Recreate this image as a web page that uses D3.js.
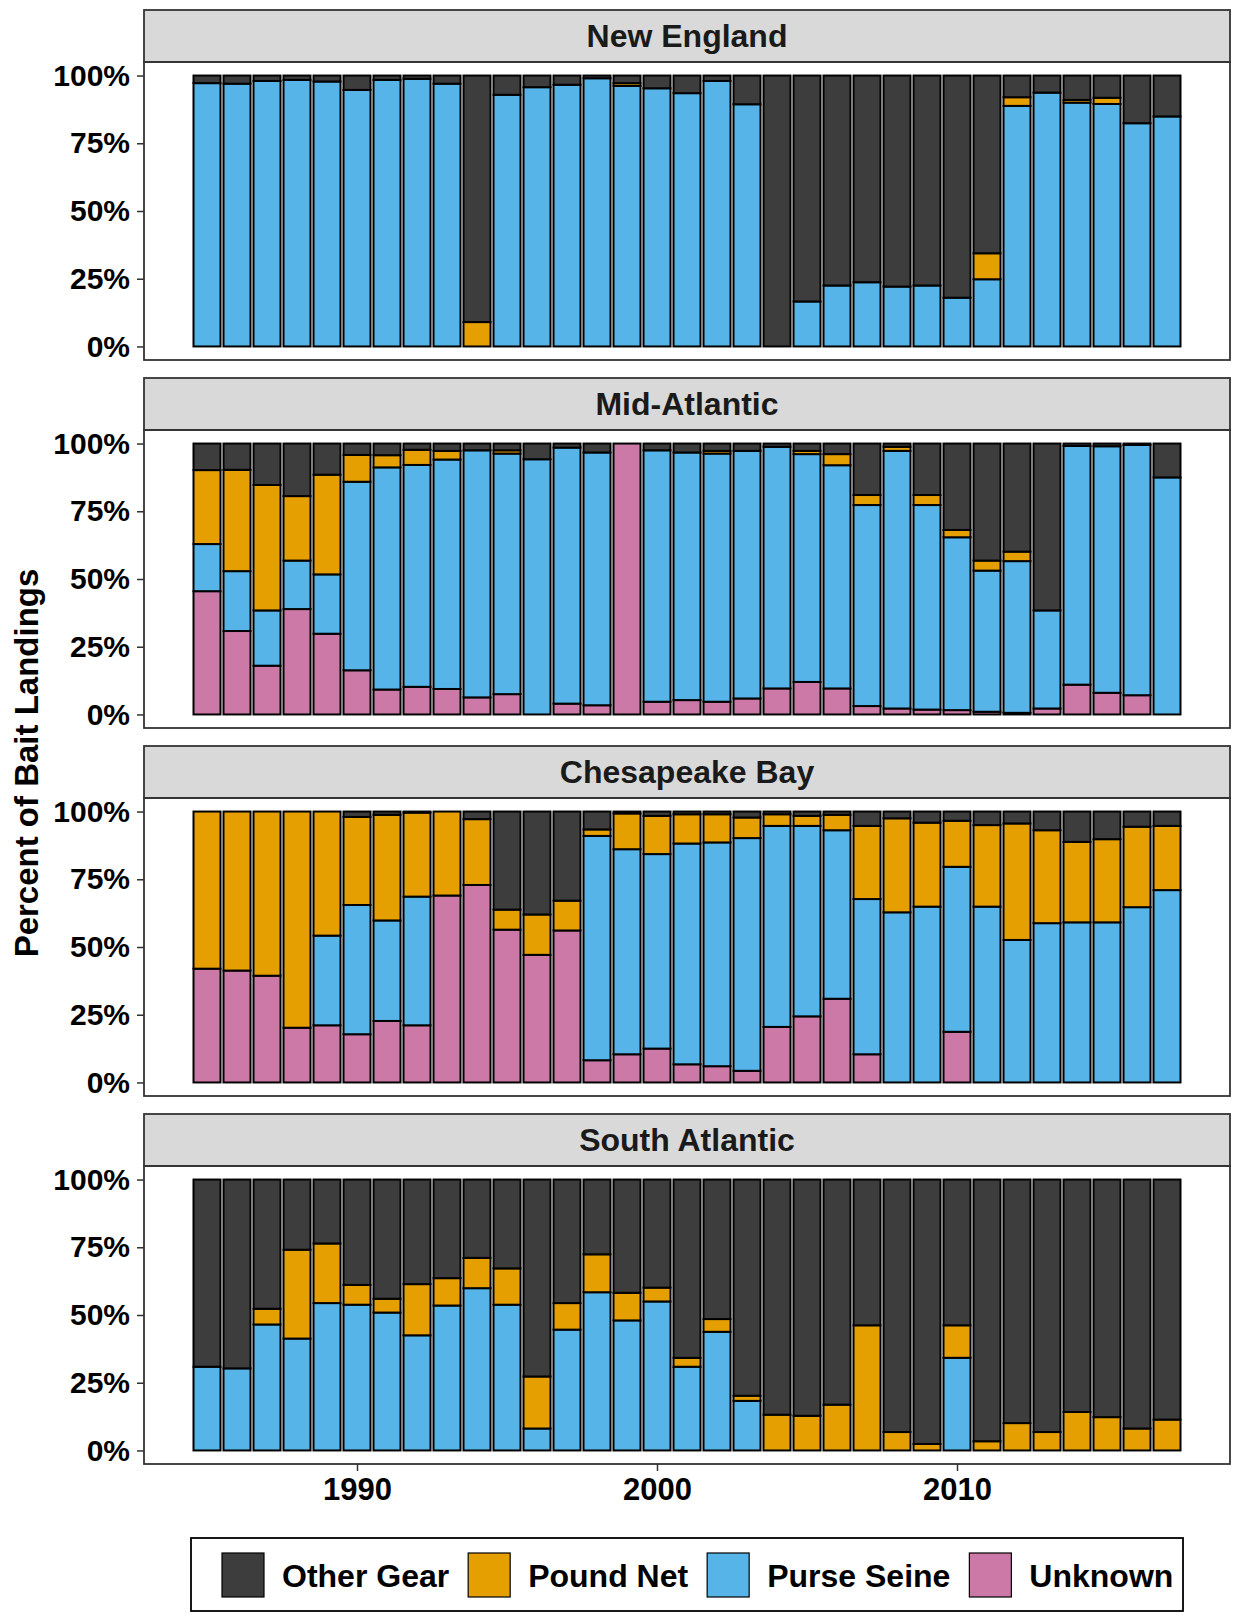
<!DOCTYPE html>
<html>
<head>
<meta charset="utf-8">
<script src="https://cdn.jsdelivr.net/npm/d3@7"></script>
<style>
  body { margin: 0; background: #fff; }
  svg { display: block; }
</style>
</head>
<body>
<script>
// years and groups
const years = [1985, 1986, 1987, 1988, 1989, 1990, 1991, 1992, 1993, 1994, 1995,
  1996, 1997, 1998, 1999, 2000, 2001, 2002, 2003, 2004, 2005, 2006, 2007, 2008,
  2009, 2010, 2011, 2012, 2013, 2014, 2015, 2016, 2017];
const regions = ["New England", "Mid-Atlantic", "Chesapeake Bay", "South Atlantic"];
const gears = ["Other Gear", "Pound Net", "Purse Seine", "Unknown"];
const yTicks = [0, 0.25, 0.5, 0.75, 1];
const xTicks = [1990, 2000, 2010];

// New England (% of bait landings)
const neOther = [2.8, 3, 2, 1.6, 2.2, 5.3, 1.6, 1.2, 3, 91, 7.1, 4.3, 3.4, 1, 2.8, 4.7, 6.5, 2, 10.6, 100, 83.4, 77.5, 76.3, 77.9, 77.5, 82, 65.6, 8, 6.3, 9, 8.2, 17.6, 15.1];
const nePound = [0, 0, 0, 0, 0, 0, 0, 0, 0, 9, 0, 0, 0, 0, 1, 0, 0, 0, 0, 0, 0, 0, 0, 0, 0, 0, 9.6, 3.2, 0, 1, 2.3, 0, 0];
const nePurse = [97.2, 97, 98, 98.4, 97.8, 94.7, 98.4, 98.8, 97, 0, 92.9, 95.7, 96.6, 99, 96.2, 95.3, 93.5, 98, 89.4, 0, 16.6, 22.5, 23.7, 22.1, 22.5, 18, 24.8, 88.8, 93.7, 90, 89.5, 82.4, 84.9];
const neUnknown = [0, 0, 0, 0, 0, 0, 0, 0, 0, 0, 0, 0, 0, 0, 0, 0, 0, 0, 0, 0, 0, 0, 0, 0, 0, 0, 0, 0, 0, 0, 0, 0, 0];

// Mid-Atlantic
const maOther = [9.8, 9.7, 15.3, 19.4, 11.5, 4.2, 4.3, 2.3, 2.7, 2.5, 2.5, 5.8, 1.5, 3.3, 0, 2.5, 3.3, 2.7, 2.7, 1.2, 2.7, 3.9, 19, 1.2, 19, 31.9, 43.2, 39.9, 61.6, 0.9, 1, 0.5, 12.5];
const maPound = [27.3, 37.4, 46.3, 23.8, 36.8, 9.9, 4.5, 5.6, 3.2, 0, 1.2, 0, 0, 0, 0, 0, 0, 1, 0, 0, 1.2, 4.1, 3.7, 1.5, 3.7, 2.7, 3.7, 3.5, 0, 0, 0, 0, 0];
const maPurse = [17.4, 22.1, 20.4, 17.9, 21.9, 69.6, 82, 81.9, 84.7, 91.2, 88.8, 94.2, 94.5, 93.3, 0, 92.8, 91.4, 91.6, 91.4, 89.2, 84.1, 82.4, 74.2, 95.1, 75.5, 63.8, 52.1, 56, 36.2, 88.1, 91, 92.4, 87.5];
const maUnknown = [45.5, 30.8, 18, 38.9, 29.8, 16.3, 9.2, 10.2, 9.4, 6.3, 7.5, 0, 4, 3.4, 100, 4.7, 5.3, 4.7, 5.9, 9.6, 12, 9.6, 3.1, 2.2, 1.8, 1.6, 1, 0.6, 2.2, 11, 8, 7.1, 0];

// Chesapeake Bay
const cbOther = [0, 0, 0, 0, 0, 2, 1.2, 0.4, 0, 2.8, 36.2, 38, 32.9, 6.6, 0.7, 1.6, 1, 1, 2.2, 1, 1.6, 1.2, 5.3, 2.5, 4.1, 3.4, 5, 4.4, 6.9, 11.2, 10.2, 5.6, 5.3];
const cbPound = [58, 58.7, 60.6, 79.8, 45.8, 32.5, 39, 31, 31, 24.3, 7.4, 14.9, 11, 2.4, 13.2, 14.1, 10.8, 10.4, 7.6, 4.3, 3.7, 5.7, 27, 34.7, 31, 17, 30.1, 43, 34.3, 29.7, 30.7, 29.7, 23.7];
const cbPurse = [0, 0, 0, 0, 33.1, 47.7, 37.1, 47.5, 0, 0, 0, 0, 0, 82.8, 75.7, 71.8, 81.5, 82.6, 85.9, 74.2, 70.3, 62.2, 57.3, 62.8, 64.9, 60.9, 64.9, 52.6, 58.8, 59.1, 59.1, 64.7, 71];
const cbUnknown = [42, 41.3, 39.4, 20.2, 21.1, 17.8, 22.7, 21.1, 69, 72.9, 56.4, 47.1, 56.1, 8.2, 10.4, 12.5, 6.7, 6, 4.3, 20.5, 24.4, 30.9, 10.4, 0, 0, 18.7, 0, 0, 0, 0, 0, 0, 0];

// South Atlantic
const saOther = [69.1, 69.7, 47.7, 25.9, 23.6, 38.9, 44, 38.6, 36.4, 28.9, 32.8, 72.7, 45.6, 27.6, 41.8, 39.9, 65.8, 51.5, 79.8, 86.8, 87.2, 83.1, 53.8, 93.2, 97.6, 53.8, 96.6, 89.9, 93.2, 85.8, 87.7, 91.9, 88.6];
const saPound = [0, 0, 5.8, 32.8, 22, 7.3, 5.1, 18.9, 10.1, 11.2, 13.4, 19.2, 9.8, 14, 10.2, 5.1, 3.3, 4.7, 1.9, 13.2, 12.8, 16.9, 46.2, 6.8, 2.4, 12, 3.4, 10.1, 6.8, 14.2, 12.3, 8.1, 11.4];
const saPurse = [30.9, 30.3, 46.5, 41.3, 54.4, 53.8, 50.9, 42.5, 53.5, 59.9, 53.8, 8.1, 44.6, 58.4, 48, 55, 30.9, 43.8, 18.3, 0, 0, 0, 0, 0, 0, 34.2, 0, 0, 0, 0, 0, 0, 0];
const saUnknown = [0, 0, 0, 0, 0, 0, 0, 0, 0, 0, 0, 0, 0, 0, 0, 0, 0, 0, 0, 0, 0, 0, 0, 0, 0, 0, 0, 0, 0, 0, 0, 0, 0];

const regionSeries = [
  [neOther, nePound, nePurse, neUnknown],
  [maOther, maPound, maPurse, maUnknown],
  [cbOther, cbPound, cbPurse, cbUnknown],
  [saOther, saPound, saPurse, saUnknown]
];

const color = d3.scaleOrdinal()
  .domain(gears)
  .range(["#3d3d3d", "#E69F00", "#56B4E9", "#CC79A7"]);

const width = 1235, height = 1616;
const panelLeft = 144, panelRight = 1230;
const firstTop = 10, panelStep = 368, stripH = 52, plotH = 298;
const fontFam = "'Liberation Sans', Arial, Helvetica, sans-serif";

const svg = d3.select("body").append("svg")
  .attr("width", width)
  .attr("height", height)
  .style("font-family", fontFam)
  .style("font-weight", "bold");

const x = d3.scaleLinear()
  .domain([1982.9, 2019.1])
  .range([panelLeft, panelRight]);
const barW = x(1985.45) - x(1984.55);

// stack from bottom: Unknown, Purse Seine, Pound Net, Other Gear
const stack = d3.stack()
  .keys(["Unknown", "Purse Seine", "Pound Net", "Other Gear"])
  .offset(d3.stackOffsetExpand);

regions.forEach(function (region, i) {
  const top = firstTop + i * panelStep;
  const plotTop = top + stripH;
  const plotBottom = plotTop + plotH;

  const rows = years.map(function (yr, j) {
    const row = { year: yr };
    gears.forEach(function (g, k) { row[g] = regionSeries[i][k][j]; });
    return row;
  });

  const y = d3.scaleLinear()
    .domain([-0.05, 1.05])
    .range([plotBottom, plotTop]);

  const g = svg.append("g");

  // strip
  g.append("rect")
    .attr("x", panelLeft).attr("y", top)
    .attr("width", panelRight - panelLeft).attr("height", stripH)
    .attr("fill", "#D9D9D9")
    .attr("stroke", "#333")
    .attr("stroke-width", 1.8);
  g.append("text")
    .attr("x", (panelLeft + panelRight) / 2)
    .attr("y", top + stripH / 2 + 11)
    .attr("text-anchor", "middle")
    .style("font-size", "32px")
    .attr("fill", "#1a1a1a")
    .text(region);

  // bars
  const layers = g.selectAll(".layer")
    .data(stack(rows))
    .enter().append("g")
    .attr("fill", d => color(d.key));

  layers.selectAll("rect")
    .data(d => d.filter(s => s[1] - s[0] > 0))
    .enter().append("rect")
    .attr("x", d => x(d.data.year) - barW / 2)
    .attr("y", d => y(d[1]))
    .attr("width", barW)
    .attr("height", d => y(d[0]) - y(d[1]))
    .attr("stroke", "#000")
    .attr("stroke-width", 2);

  // panel border
  g.append("rect")
    .attr("x", panelLeft).attr("y", plotTop)
    .attr("width", panelRight - panelLeft).attr("height", plotH)
    .attr("fill", "none")
    .attr("stroke", "#333")
    .attr("stroke-width", 1.8);

  const yAxis = g.append("g")
    .attr("transform", `translate(${panelLeft},0)`)
    .call(d3.axisLeft(y).tickValues(yTicks).tickFormat(d3.format(".0%")).tickSize(7).tickPadding(7));
  yAxis.select(".domain").remove();
  yAxis.selectAll("line").attr("stroke", "#333").attr("stroke-width", 1.5);
  yAxis.selectAll("text")
    .attr("fill", "#000")
    .style("font-family", fontFam)
    .style("font-size", "30px")
    .style("font-weight", "bold");

  if (i === regions.length - 1) {
    const xAxis = g.append("g")
      .attr("transform", `translate(0,${plotBottom})`)
      .call(d3.axisBottom(x).tickValues(xTicks).tickFormat(d3.format("d")).tickSize(7).tickPadding(7));
    xAxis.select(".domain").remove();
    xAxis.selectAll("line").attr("stroke", "#333").attr("stroke-width", 1.5);
    xAxis.selectAll("text")
      .attr("fill", "#000")
      .style("font-family", fontFam)
      .style("font-size", "31px")
      .style("font-weight", "bold");
  }
});

// y axis title
svg.append("text")
  .attr("transform", "translate(38,763) rotate(-90)")
  .attr("text-anchor", "middle")
  .style("font-size", "33px")
  .text("Percent of Bait Landings");

// legend
const legend = svg.append("g");
legend.append("rect")
  .attr("x", 191).attr("y", 1538)
  .attr("width", 992).attr("height", 73)
  .attr("fill", "#fff")
  .attr("stroke", "#000")
  .attr("stroke-width", 1.8);

let lx = 222;
gears.forEach(function (gear) {
  legend.append("rect")
    .attr("x", lx).attr("y", 1553)
    .attr("width", 42).attr("height", 44)
    .attr("fill", color(gear))
    .attr("stroke", "#000")
    .attr("stroke-width", 1.2);
  const t = legend.append("text")
    .attr("x", lx + 60)
    .attr("y", 1587)
    .style("font-size", "32px")
    .text(gear);
  lx = lx + 60 + t.node().getComputedTextLength() + 19;
});
</script>
</body>
</html>
